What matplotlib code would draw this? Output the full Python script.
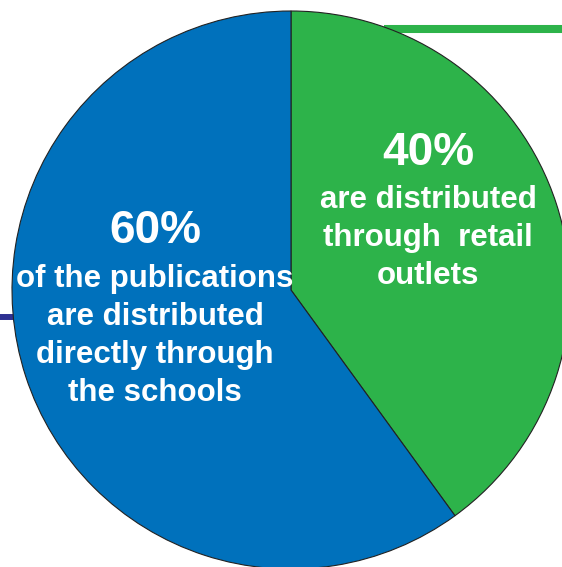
import matplotlib
matplotlib.use("Agg")
import matplotlib.pyplot as plt

shares = [40, 60]
colors = ["#2db34a", "#0071bc"]
pct_labels = ["40%", "60%"]
desc_labels = ["are distributed\nthrough  retail\noutlets",
               "of the publications\nare distributed\ndirectly through\nthe schools"]

W, H = 562, 567
fig = plt.figure(figsize=(W / 100, H / 100), dpi=100)
ax = fig.add_axes([0, 0, 1, 1])

# decorative lines
ax.plot([384, 562], [H - 29, H - 29], color="#2db34a", lw=5.8, solid_capstyle="butt", zorder=1)
ax.plot([0, 14], [H - 317, H - 317], color="#2e3192", lw=4.3, solid_capstyle="butt", zorder=1)

ax.pie(shares, colors=colors, startangle=90, counterclock=False,
       center=(291, H - 290), radius=279, frame=True,
       wedgeprops=dict(edgecolor="#222222", linewidth=0.8))
ax.set_xlim(0, W)
ax.set_ylim(0, H)
ax.set_aspect("equal")
ax.axis("off")

font = dict(family="Liberation Sans", weight="bold", color="white")
ax.text(428, H - 153, pct_labels[0], ha="center", va="center", fontsize=33, zorder=5, **font)
ax.text(428, H - 238, desc_labels[0], ha="center", va="center", fontsize=22.5,
        linespacing=1.34, zorder=5, **font)
ax.text(155, H - 231, pct_labels[1], ha="center", va="center", fontsize=33, zorder=5, **font)
ax.text(155, H - 336, desc_labels[1], ha="center", va="center", fontsize=22.5,
        linespacing=1.34, zorder=5, **font)

fig.savefig("out.png", dpi=100)
